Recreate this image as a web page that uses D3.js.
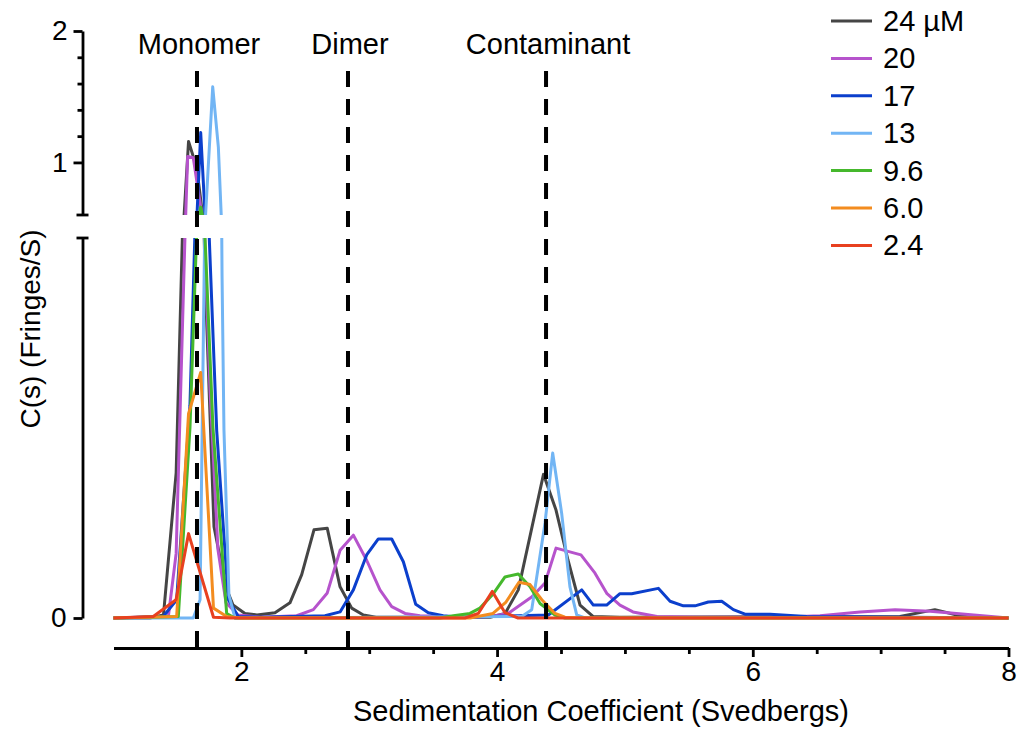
<!DOCTYPE html>
<html>
<head>
<meta charset="utf-8">
<script src="https://cdnjs.cloudflare.com/ajax/libs/d3/7.8.5/d3.min.js"></script>
<style>
body { margin: 0; background: #fff; }
svg { font-family: "Liberation Sans", Arial, sans-serif; }
.axis path, .axis line { stroke: #000; stroke-width: 2.8; }
.axis text { font-family: "Liberation Sans", Arial, sans-serif; font-size: 28px; fill: #000; }
</style>
</head>
<body>
<svg width="1019" height="729"></svg>
<script>
// c(s) distributions, [s (Svedbergs), c(s) (fringes/S)]
var cs24 = [[1.000,0],[1.285,0],[1.391,0.004],[1.490,0.191],[1.551,0.58],[1.587,1.16],[1.651,0.96],[1.716,0.45],
  [1.786,0.12],[1.880,0.04],[1.935,0.017],[2.028,0.006],[2.122,0.004],[2.263,0.007],[2.380,0.020],[2.472,0.057],
  [2.568,0.116],[2.672,0.118],[2.772,0.041],[2.863,0.013],[2.954,0.004],[3.053,0.001],[3.945,0.001],[4.063,0.006],
  [4.166,0.037],[4.363,0.189],[4.461,0.142],[4.555,0.076],[4.649,0.017],[4.750,0.002],[4.961,0.001],[7.151,0.002],
  [7.424,0.011],[7.595,0.004],[7.777,0.001],[8.000,0]];
var cs20 = [[1.000,0],[1.429,0.002],[1.490,0.085],[1.562,0.52],[1.580,1.046],[1.624,1.036],[1.690,0.61],[1.755,0.3],
  [1.817,0.09],[1.880,0.02],[1.974,0.004],[2.146,0.001],[2.433,0.003],[2.563,0.011],[2.672,0.033],[2.772,0.089],
  [2.876,0.109],[2.980,0.076],[3.084,0.037],[3.176,0.015],[3.280,0.006],[3.397,0.003],[3.710,0.001],[3.945,0.002],
  [4.086,0.006],[4.273,0.028],[4.375,0.046],[4.461,0.092],[4.656,0.083],[4.766,0.059],[4.860,0.032],[4.961,0.017],
  [5.063,0.008],[5.251,0.002],[5.587,0.001],[6.213,0.001],[6.526,0.003],[6.839,0.008],[7.113,0.011],[7.387,0.009],
  [7.661,0.005],[8.000,0]];
var cs17 = [[1.000,0],[1.389,0.002],[1.494,0.024],[1.598,0.28],[1.653,0.6],[1.682,1.227],[1.716,0.6],[1.749,0.5],
  [1.807,0.247],[1.898,0.024],[1.976,0.002],[2.146,0.001],[2.654,0.003],[2.772,0.008],[2.876,0.037],[2.980,0.083],
  [3.071,0.104],[3.176,0.104],[3.267,0.074],[3.364,0.018],[3.462,0.007],[3.579,0.003],[3.710,0.001],[4.401,0.004],
  [4.662,0.037],[4.753,0.017],[4.857,0.017],[4.961,0.032],[5.053,0.032],[5.261,0.039],[5.353,0.022],[5.457,0.016],
  [5.548,0.016],[5.652,0.021],[5.757,0.022],[5.848,0.011],[5.939,0.005],[6.135,0.005],[6.422,0.002],[8.000,0]];
var cs13 = [[1.000,0],[1.624,0],[1.677,0.024],[1.720,0.6],[1.776,1.575],[1.820,1.117],[1.849,0.45],[1.864,0.247],
  [1.903,0.03],[1.950,0],[4.193,0.002],[4.271,0.011],[4.375,0.125],[4.435,0.217],[4.505,0.138],[4.570,0.041],
  [4.623,0.004],[4.688,0],[8.000,0]];
var cs9p6 = [[1.000,0],[1.507,0.002],[1.598,0.25],[1.682,0.66],[1.716,0.5],[1.778,0.25],[1.885,0.006],[1.950,0],
  [3.554,0],[3.658,0.003],[3.788,0.006],[3.866,0.013],[3.971,0.032],[4.062,0.054],[4.166,0.058],[4.258,0.041],
  [4.336,0.019],[4.453,0.004],[4.531,0],[8.000,0]];
var cs6p0 = [[1.000,0],[1.494,0.002],[1.587,0.269],[1.682,0.323],[1.782,0.013],[1.885,0.002],[1.989,0],[3.788,0],
  [3.968,0.006],[4.070,0.021],[4.171,0.047],[4.258,0.044],[4.350,0.024],[4.453,0.006],[4.531,0.001],[4.649,0],[8.000,0]];
var cs2p4 = [[1.000,0],[1.311,0.002],[1.489,0.024],[1.587,0.111],[1.782,0.001],[1.911,0],[3.749,0],[3.853,0.006],
  [3.963,0.035],[4.062,0.007],[4.164,0],[8.000,0]];

var seriesNames = ["24 µM", "20", "17", "13", "9.6", "6.0", "2.4"];
var seriesData = [cs24, cs20, cs17, cs13, cs9p6, cs6p0, cs2p4];
var seriesColors = ["#454545", "#b653cc", "#0b3fcc", "#72b5f4", "#45b82c", "#f38c1f", "#e8401f"];

var markerNames = ["Monomer", "Dimer", "Contaminant"];
var markerS = [1.653, 2.834, 4.383];

var xMajorTicks = [2, 4, 6, 8];
var xMinorTicks = [2.5, 3, 3.5, 4.5, 5, 5.5, 6.5, 7, 7.5];
var yUpperTicks = [1, 2];
var yUpperMinor = [1.2, 1.4, 1.6, 1.8];
var yLowerTicks = [0];

var svg = d3.select("svg"),
  axisX = 82.5,
  fmt = d3.format("d");

var x = d3.scaleLinear().domain([1, 8]).range([113.5, 1008.5]);
var yUp = d3.scaleLinear().domain([0.6, 2]).range([215, 31]);
var yLow = d3.scaleLinear().domain([0, 0.5]).range([618, 238]);

var defs = svg.append("defs");
defs.append("clipPath").attr("id", "clipUp")
  .append("rect").attr("x", 100).attr("y", yUp(2)).attr("width", 920).attr("height", yUp(0.6) - yUp(2));
defs.append("clipPath").attr("id", "clipLow")
  .append("rect").attr("x", 100).attr("y", yLow(0.5)).attr("width", 920).attr("height", yLow(0) - yLow(0.5) + 8);

// both panels of the broken axis get every curve, clipped to their own range
[["clipUp", yUp], ["clipLow", yLow]].forEach(function(p) {
  var line = d3.line()
    .x(function(d) { return x(d[0]); })
    .y(function(d) { return p[1](d[1]); });
  svg.append("g")
      .attr("clip-path", "url(#" + p[0] + ")")
    .selectAll("path")
    .data(seriesData)
    .enter().append("path")
      .attr("fill", "none")
      .attr("stroke", function(d, i) { return seriesColors[i]; })
      .attr("stroke-width", 3)
      .attr("stroke-linejoin", "round")
      .attr("d", line);
});

// dashed peak markers
svg.append("g")
  .selectAll("line")
  .data(markerS)
  .enter().append("line")
    .attr("x1", function(d) { return x(d); })
    .attr("x2", function(d) { return x(d); })
    .attr("y1", 71)
    .attr("y2", 648)
    .attr("stroke", "#000")
    .attr("stroke-width", 4)
    .attr("stroke-dasharray", "16,12");

svg.append("g")
    .attr("font-size", 29)
    .attr("text-anchor", "middle")
  .selectAll("text")
  .data(markerNames)
  .enter().append("text")
    .attr("x", function(d, i) { return x(markerS[i]) + 2; })
    .attr("y", 54)
    .text(function(d) { return d; });

// x axis
svg.append("g")
    .attr("class", "axis")
    .attr("transform", "translate(0,648)")
    .call(d3.axisBottom(x).tickValues(xMajorTicks).tickFormat(fmt).tickSize(9).tickSizeOuter(0).tickPadding(4));
svg.append("g")
    .attr("class", "axis")
    .attr("transform", "translate(0,648)")
    .call(d3.axisBottom(x).tickValues(xMinorTicks).tickSize(6).tickFormat(""))
    .select(".domain").remove();

// y axis, upper segment
svg.append("g")
    .attr("class", "axis")
    .attr("transform", "translate(" + axisX + ",0)")
    .call(d3.axisLeft(yUp).tickValues(yUpperTicks).tickFormat(fmt).tickSize(9).tickSizeOuter(0).tickPadding(6));
svg.append("g")
    .attr("class", "axis")
    .attr("transform", "translate(" + axisX + ",0)")
    .call(d3.axisLeft(yUp).tickValues(yUpperMinor).tickSize(5).tickFormat(""))
    .select(".domain").remove();

// y axis, lower segment
svg.append("g")
    .attr("class", "axis")
    .attr("transform", "translate(" + axisX + ",0)")
    .call(d3.axisLeft(yLow).tickValues(yLowerTicks).tickFormat(fmt).tickSize(9).tickSizeOuter(0).tickPadding(7));

// caps at the axis break
svg.append("g")
  .selectAll("line")
  .data([yUp(0.6), yLow(0.5)])
  .enter().append("line")
    .attr("x1", axisX - 6)
    .attr("x2", axisX + 6)
    .attr("y1", function(d) { return d; })
    .attr("y2", function(d) { return d; })
    .attr("stroke", "#000")
    .attr("stroke-width", 2.8);

svg.append("text")
    .attr("x", 601)
    .attr("y", 721)
    .attr("font-size", 29)
    .attr("text-anchor", "middle")
    .text("Sedimentation Coefficient (Svedbergs)");

svg.append("text")
    .attr("transform", "translate(40,329) rotate(-90)")
    .attr("font-size", 28)
    .attr("text-anchor", "middle")
    .text("C(s) (Fringes/S)");

// legend
var legend = svg.append("g")
  .selectAll("g")
  .data(seriesNames)
  .enter().append("g")
    .attr("transform", function(d, i) { return "translate(831," + (21 + i * 37.4) + ")"; });

legend.append("line")
    .attr("x2", 41)
    .attr("stroke", function(d, i) { return seriesColors[i]; })
    .attr("stroke-width", 3);

legend.append("text")
    .attr("x", 52)
    .attr("y", 10)
    .attr("font-size", 29)
    .text(function(d) { return d; });
</script>
</body>
</html>
